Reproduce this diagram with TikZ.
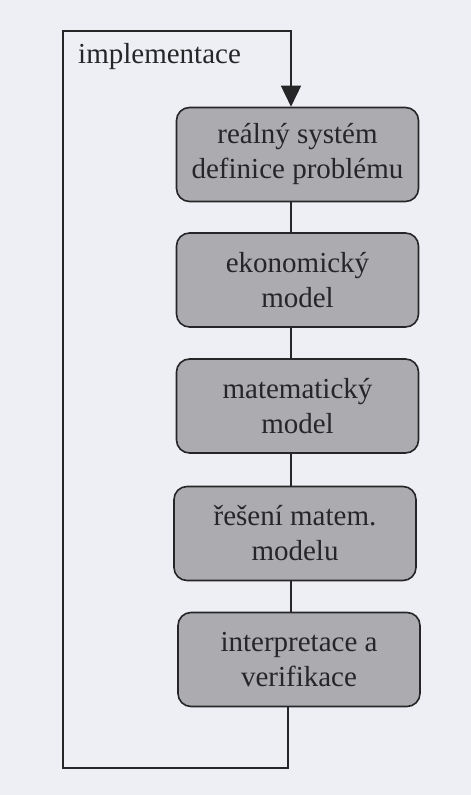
\documentclass[tikz,border=0pt]{standalone}
\usepackage{fontspec}
\setmainfont{Liberation Serif}
\usetikzlibrary{arrows.meta}
\definecolor{paper}{RGB}{237,239,244}
\definecolor{boxfill}{RGB}{172,172,176}
\definecolor{ink}{RGB}{38,38,40}
\tikzset{
  stage/.style={draw=ink, line width=1.6pt, fill=boxfill, rounded corners=13pt,
    minimum width=242pt, minimum height=94pt, inner sep=0pt, align=center,
    text=ink, font=\fontsize{29}{35}\selectfont},
  link/.style={draw=ink, line width=1.6pt},
  label/.style={text=ink, font=\fontsize{29}{35}\selectfont, inner sep=0pt}
}
\begin{document}
\begin{tikzpicture}[x=1pt,y=-1pt]
  \fill[paper] (0,0) rectangle (471,795);
  \useasboundingbox (0,0) rectangle (471,795);

  % process stages
  \node[stage] (b1) at (297.5,154.5) {reálný systém\\definice problému};
  \node[stage] (b2) at (297.5,280) {ekonomický\\model};
  \node[stage] (b3) at (297.5,406) {matematický\\model};
  \node[stage] (b4) at (295,533.5) {řešení matem.\\modelu};
  \node[stage] (b5) at (299,659.5) {interpretace a\\verifikace};

  % spine and feedback loop
  \coordinate (spine) at (291,0);
  \coordinate (ret) at (288,0);
  \coordinate (lb) at (63,768);
  \coordinate (lt) at (63,31);
  \coordinate (rt) at (291,31);

  \draw[link] (b1.south -| spine) -- (b2.north -| spine);
  \draw[link] (b2.south -| spine) -- (b3.north -| spine);
  \draw[link] (b3.south -| spine) -- (b4.north -| spine);
  \draw[link] (b4.south -| spine) -- (b5.north -| spine);

  \draw[link, -{Triangle[width=20pt,length=21pt]}]
    (b5.south -| ret) -- (ret |- lb) -- (lb) -- (lt) -- (rt) -- (b1.north -| spine);

  \node[label, anchor=base west] (impl) at (78,63) {implementace};
\end{tikzpicture}
\end{document}
